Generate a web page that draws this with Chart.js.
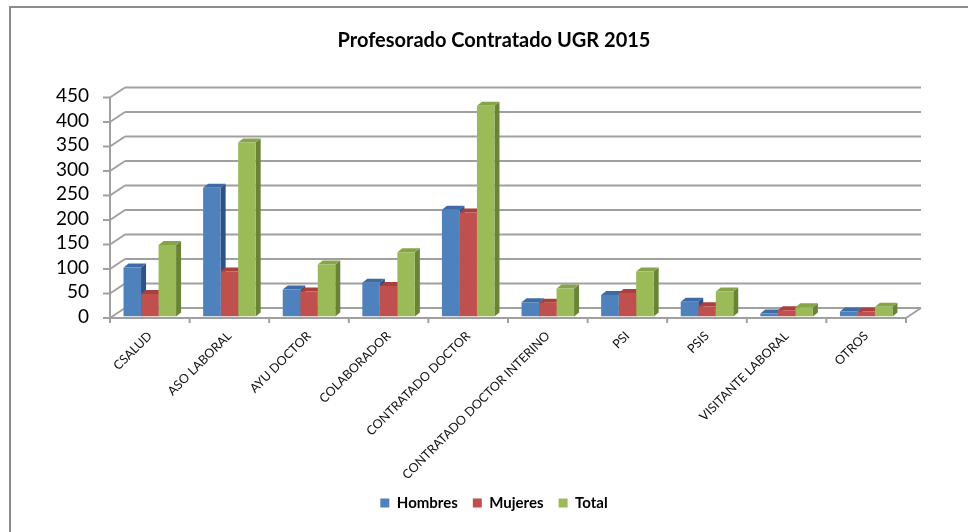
<!DOCTYPE html>
<html>
<head>
<meta charset="utf-8">
<script src="https://cdn.jsdelivr.net/npm/chart.js@4"></script>
<style>
  html, body { margin: 0; padding: 0; background: #fff; }
  #wrap { width: 968px; height: 532px; }
</style>
</head>
<body>
<div id="wrap"><canvas id="chart"></canvas></div>
<script>
const categories = ['CSALUD', 'ASO LABORAL', 'AYU DOCTOR', 'COLABORADOR', 'CONTRATADO DOCTOR',
  'CONTRATADO DOCTOR INTERINO', 'PSI', 'PSIS', 'VISITANTE LABORAL', 'OTROS'];
const hombres = [100, 263, 55, 69, 218, 29, 44, 30, 6, 10];
const mujeres = [46, 92, 51, 62, 212, 28, 48, 21, 13, 10];
const total = [146, 355, 106, 131, 430, 57, 92, 51, 19, 20];
const yTicks = [0, 50, 100, 150, 200, 250, 300, 350, 400, 450];

// front colour, top face, side face
const COLORS = [
  ['#4F81BD', '#3E6BA3', '#2F5283'],
  ['#C0504D', '#A8413E', '#8A3331'],
  ['#9BBB59', '#86A449', '#6A8437'],
];
const DEPTH = { dx: 5, dy: -4 };
const WALL = { dx: 15, dy: -10 };

function line(ctx, x1, y1, x2, y2) {
  ctx.beginPath();
  ctx.moveTo(x1, y1);
  ctx.lineTo(x2, y2);
  ctx.stroke();
}

function poly(ctx, pts, fill) {
  ctx.beginPath();
  ctx.moveTo(pts[0][0], pts[0][1]);
  pts.slice(1).forEach(p => ctx.lineTo(p[0], p[1]));
  ctx.closePath();
  ctx.fillStyle = fill;
  ctx.fill();
}

const frame3d = {
  id: 'frame3d',
  beforeDraw(chart) {
    const ctx = chart.ctx;
    ctx.save();
    ctx.fillStyle = '#fff';
    ctx.fillRect(0, 0, chart.width, chart.height);
    ctx.strokeStyle = '#8c8c8c';
    ctx.lineWidth = 2;
    ctx.strokeRect(10, 7, chart.width + 20, chart.height + 20);
    ctx.restore();
  },
  beforeDatasetsDraw(chart) {
    const { ctx, chartArea: a, scales: { y } } = chart;
    ctx.save();
    ctx.strokeStyle = '#a0a0a0';
    ctx.lineWidth = 2;
    yTicks.forEach(v => {
      const yf = y.getPixelForValue(v) + 1.5;
      line(ctx, a.left - 7, yf, a.left, yf);
      line(ctx, a.left, yf, a.left + WALL.dx, yf + WALL.dy);
      line(ctx, a.left + WALL.dx, yf + WALL.dy, a.right + WALL.dx, yf + WALL.dy);
    });
    const y0 = y.getPixelForValue(0) + 1.5;
    const yTop = y.getPixelForValue(450) + 1.5;
    line(ctx, a.left, yTop, a.left, y0);
    line(ctx, a.left, y0, a.right, y0);
    line(ctx, a.right, y0, a.right + WALL.dx, y0 + WALL.dy);
    const step = (a.right - a.left) / categories.length;
    for (let i = 0; i <= categories.length; i++) {
      const xb = a.left + i * step;
      line(ctx, xb, y0, xb, y0 + 5);
    }

    categories.forEach((c, i) => {
      chart.data.datasets.forEach((ds, d) => {
        const bar = chart.getDatasetMeta(d).data[i];
        const l = bar.x - bar.width / 2;
        const r = bar.x + bar.width / 2;
        const t = bar.y;
        const b = bar.base;
        poly(ctx, [[r, t], [r + DEPTH.dx, t + DEPTH.dy], [r + DEPTH.dx, b + DEPTH.dy], [r, b]], COLORS[d][2]);
        poly(ctx, [[l, t], [l + DEPTH.dx, t + DEPTH.dy], [r + DEPTH.dx, t + DEPTH.dy], [r, t]], COLORS[d][1]);
      });
    });
    ctx.restore();
  },
};

new Chart(document.getElementById('chart'), {
  type: 'bar',
  data: {
    labels: categories,
    datasets: [
      { label: 'Hombres', data: hombres, backgroundColor: COLORS[0][0], borderWidth: 0 },
      { label: 'Mujeres', data: mujeres, backgroundColor: COLORS[1][0], borderWidth: 0 },
      { label: 'Total', data: total, backgroundColor: COLORS[2][0], borderWidth: 0 },
    ],
  },
  plugins: [frame3d],
  options: {
    responsive: true,
    maintainAspectRatio: false,
    animation: false,
    categoryPercentage: 0.66,
    barPercentage: 1,
    layout: { padding: { left: 20, right: 0, top: 7, bottom: 11.5 } },
    plugins: {
      title: {
        display: true,
        text: 'Profesorado Contratado UGR 2015',
        color: '#000',
        font: { family: 'Lato', size: 20, weight: 'bold' },
        padding: { top: 22, bottom: 43 },
      },
      legend: {
        position: 'bottom',
        labels: {
          boxWidth: 9,
          boxHeight: 9,
          padding: 15,
          color: '#000',
          font: { family: 'Lato', size: 15, weight: 'bold' },
        },
      },
      tooltip: { enabled: false },
    },
    scales: {
      x: {
        grid: { display: false, drawTicks: false },
        border: { display: false },
        ticks: {
          autoSkip: false,
          maxRotation: 45,
          minRotation: 45,
          padding: 12,
          color: '#111',
          font: { family: 'Lato', size: 12.5 },
        },
        afterFit(s) { s.height = 164; },
      },
      y: {
        min: 0,
        max: 450,
        grid: { display: false, drawTicks: false },
        border: { display: false },
        ticks: {
          stepSize: 50,
          autoSkip: false,
          padding: 21,
          color: '#000',
          font: { family: 'Lato', size: 19 },
        },
        afterFit(s) { s.width = 90; },
      },
      y2: {
        position: 'right',
        display: true,
        grid: { display: false, drawTicks: false },
        border: { display: false },
        ticks: { display: false },
        afterFit(s) { s.width = 62; },
      },
    },
  },
});
</script>
</body>
</html>
